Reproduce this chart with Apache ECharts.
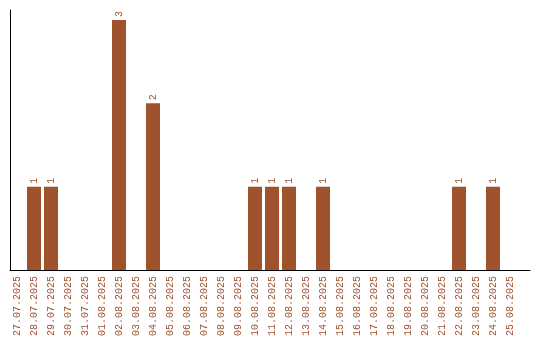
<!DOCTYPE html>
<html><head><meta charset="utf-8">
<script src="https://cdn.jsdelivr.net/npm/echarts@6/dist/echarts.min.js"></script>
<style>html,body{margin:0;padding:0;background:#fff}#c{width:540px;height:340px}</style>
</head><body><div id="c"></div>
<script>
var categories = ["27.07.2025","28.07.2025","29.07.2025","30.07.2025","31.07.2025","01.08.2025","02.08.2025","03.08.2025","04.08.2025","05.08.2025","06.08.2025","07.08.2025","08.08.2025","09.08.2025","10.08.2025","11.08.2025","12.08.2025","13.08.2025","14.08.2025","15.08.2025","16.08.2025","17.08.2025","18.08.2025","19.08.2025","20.08.2025","21.08.2025","22.08.2025","23.08.2025","24.08.2025","25.08.2025"];
var counts = [0,1,1,0,0,0,3,0,2,0,0,0,0,0,1,1,1,0,1,0,0,0,0,0,0,0,1,0,1,0];

var color = '#A0522D';
var chart = echarts.init(document.getElementById('c'), null, {renderer:'canvas'});
chart.setOption({
  animation: false,
  backgroundColor: '#fff',
  grid: [
    {left: 8.5, width: 510, top: 10, height: 260, containLabel: false},
    {left: 10, right: 10, top: 10, height: 260, containLabel: false}
  ],
  xAxis: [
    {type: 'category', gridIndex: 0, data: categories,
     axisLine: {show: false}, axisTick: {show: false},
     axisLabel: {rotate: 90, margin: 6, interval: 0, color: color,
       fontFamily: 'Liberation Mono', fontSize: 10}},
    {type: 'value', gridIndex: 1, min: 0, max: 1, show: true,
     axisLine: {show: true, onZero: false, lineStyle: {color: '#000', width: 1}},
     axisTick: {show: false}, axisLabel: {show: false}, splitLine: {show: false}}
  ],
  yAxis: [
    {type: 'value', gridIndex: 0, min: 0, max: 3.12, show: false},
    {type: 'value', gridIndex: 1, min: 0, max: 1,
     axisLine: {show: true, lineStyle: {color: '#000', width: 1}},
     axisTick: {show: false}, axisLabel: {show: false}, splitLine: {show: false}}
  ],
  series: [{
    type: 'bar', xAxisIndex: 0, yAxisIndex: 0,
    data: counts.map(function(v){ return v === 0 ? null : v; }),
    barWidth: 14,
    itemStyle: {color: color},
    label: {show: true, position: 'top', rotate: 90, align: 'left', verticalAlign: 'middle',
      distance: 3, color: color, fontFamily: 'Liberation Mono', fontSize: 10}
  }]
});
</script></body></html>
